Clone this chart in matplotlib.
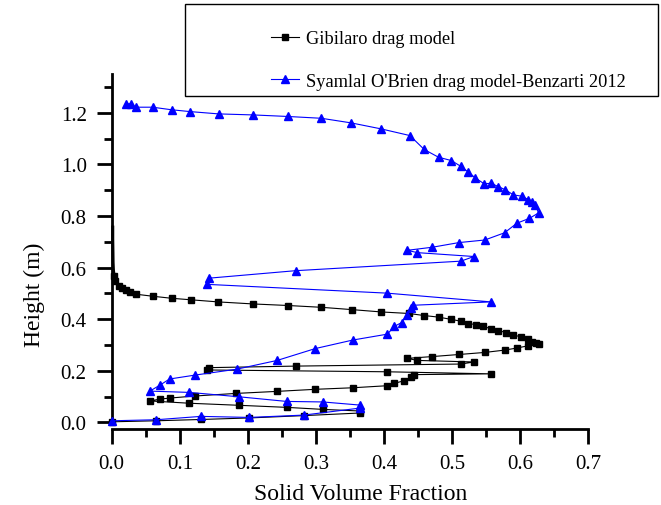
import matplotlib
matplotlib.use("Agg")
import matplotlib.pyplot as plt
from matplotlib.patches import Rectangle
from matplotlib.ticker import MultipleLocator

plt.rcParams["font.family"] = ["Liberation Serif", "DejaVu Serif"]

# Gibilaro drag model (bottom -> top)
gib_x = [0.0, 0.0655, 0.131, 0.202, 0.282, 0.364, 0.364, 0.311, 0.257, 0.187,
         0.114, 0.056, 0.071, 0.085, 0.122, 0.182, 0.243, 0.299, 0.354, 0.405,
         0.415, 0.429, 0.439, 0.444, 0.557, 0.404, 0.140, 0.143, 0.270, 0.513,
         0.532, 0.449, 0.434, 0.471, 0.510, 0.548, 0.577, 0.595, 0.612, 0.627,
         0.623, 0.617, 0.612, 0.601, 0.590, 0.579, 0.568, 0.557, 0.546, 0.535,
         0.524, 0.513, 0.499, 0.480, 0.459, 0.437, 0.396, 0.353, 0.308, 0.259,
         0.208, 0.156, 0.117, 0.088, 0.060, 0.035, 0.027, 0.021, 0.015, 0.010,
         0.005, 0.0035, 0.0025, 0.002, 0.0018, 0.0015, 0.0015]
gib_y = [0.002, 0.006, 0.011, 0.017, 0.026, 0.036, 0.044, 0.050, 0.058, 0.066,
         0.074, 0.083, 0.090, 0.094, 0.102, 0.112, 0.120, 0.128, 0.134, 0.142,
         0.151, 0.161, 0.174, 0.185, 0.188, 0.196, 0.203, 0.212, 0.218, 0.226,
         0.234, 0.240, 0.248, 0.255, 0.263, 0.271, 0.280, 0.288, 0.297, 0.302,
         0.306, 0.312, 0.323, 0.332, 0.338, 0.348, 0.356, 0.363, 0.372, 0.379,
         0.383, 0.392, 0.399, 0.408, 0.414, 0.422, 0.428, 0.437, 0.446, 0.453,
         0.459, 0.467, 0.475, 0.481, 0.489, 0.497, 0.504, 0.513, 0.521, 0.530,
         0.549, 0.569, 0.59, 0.62, 0.66, 0.71, 0.757]

# Syamlal O'Brien drag model - Benzarti 2012 (bottom -> top)
sy_x = [0.001, 0.0655, 0.131, 0.202, 0.282, 0.364, 0.364, 0.310, 0.257, 0.187,
        0.114, 0.056, 0.071, 0.085, 0.122, 0.1835, 0.243, 0.299, 0.354, 0.405,
        0.415, 0.426, 0.433, 0.440, 0.443, 0.557, 0.404, 0.140, 0.143, 0.270,
        0.513, 0.532, 0.449, 0.434, 0.471, 0.510, 0.548, 0.577, 0.595, 0.6135,
        0.627, 0.622, 0.617, 0.612, 0.602, 0.590, 0.578, 0.568, 0.557, 0.547,
        0.534, 0.524, 0.5125, 0.499, 0.480, 0.459, 0.438, 0.3955, 0.352, 0.308,
        0.259, 0.208, 0.157, 0.115, 0.088, 0.060, 0.036, 0.028, 0.0206]
sy_y = [0.006, 0.010, 0.023, 0.019, 0.028, 0.055, 0.067, 0.079, 0.081, 0.099,
        0.116, 0.121, 0.1445, 0.168, 0.183, 0.206, 0.240, 0.286, 0.319, 0.342,
        0.372, 0.387, 0.415, 0.445, 0.454, 0.467, 0.501, 0.535, 0.559, 0.588,
        0.625, 0.643, 0.658, 0.667, 0.679, 0.697, 0.707, 0.735, 0.772, 0.791,
        0.812, 0.843, 0.856, 0.864, 0.877, 0.882, 0.902, 0.914, 0.927, 0.925,
        0.948, 0.970, 0.993, 1.015, 1.028, 1.058, 1.112, 1.138, 1.161, 1.179,
        1.186, 1.192, 1.196, 1.205, 1.212, 1.222, 1.222, 1.235, 1.235]

labels = ["Gibilaro drag model", "Syamlal O'Brien drag model-Benzarti 2012"]

fig = plt.figure(figsize=(6.61, 5.06), dpi=100)
ax = fig.add_axes([0.169, 0.1634, 0.721, 0.688])

n_top = 5  # near-vertical dense part at x ~ 0 shown as a thick line
ax.plot(gib_x, gib_y, color="black", lw=0.8, marker="s", ms=4,
        markevery=slice(0, len(gib_x) - n_top), label=labels[0],
        clip_on=False, zorder=2)
ax.plot(gib_x[-n_top - 1:], gib_y[-n_top - 1:], color="black", lw=2.2,
        clip_on=False, zorder=2)
ax.plot(sy_x, sy_y, color="#0000ff", lw=0.8, marker="^", ms=5.3,
        label=labels[1], clip_on=False, zorder=3)

ax.set_xlim(0, 0.7)
ax.set_ylim(0, 1.35)
ax.xaxis.set_major_locator(MultipleLocator(0.1))
ax.xaxis.set_minor_locator(MultipleLocator(0.05))
ax.yaxis.set_major_locator(MultipleLocator(0.2))
ax.yaxis.set_minor_locator(MultipleLocator(0.1))
ax.xaxis.set_major_formatter(plt.FormatStrFormatter("%.1f"))
ax.yaxis.set_major_formatter(plt.FormatStrFormatter("%.1f"))

for side in ["top", "right"]:
    ax.spines[side].set_visible(False)
for side in ["left", "bottom"]:
    ax.spines[side].set_linewidth(2)
ax.spines["bottom"].set_position(("outward", 5))

ax.tick_params(which="major", direction="out", length=11, width=2,
               labelsize=15)
ax.tick_params(which="minor", direction="out", length=6, width=2)
ax.tick_params(axis="x", which="major", pad=7)
ax.tick_params(axis="y", which="major", pad=7)

ax.set_xlabel("Solid Volume Fraction", fontsize=17)
ax.set_ylabel("Height (m)", fontsize=17)
ax.xaxis.set_label_coords(0.523, -0.175)
ax.yaxis.set_label_coords(-0.14, 0.37)

fig.legend(loc="upper left", bbox_to_anchor=(271 / 661, 1 - 31 / 506),
           frameon=False, fontsize=13.2, borderpad=0, borderaxespad=0,
           handlelength=1.5, handletextpad=0.4, labelspacing=1.4)
fig.add_artist(Rectangle((185 / 661, 1 - 97 / 506), 473 / 661, 92 / 506,
                         transform=fig.transFigure, fill=False,
                         edgecolor="black", lw=1))

fig.savefig("out.png", dpi=100)
